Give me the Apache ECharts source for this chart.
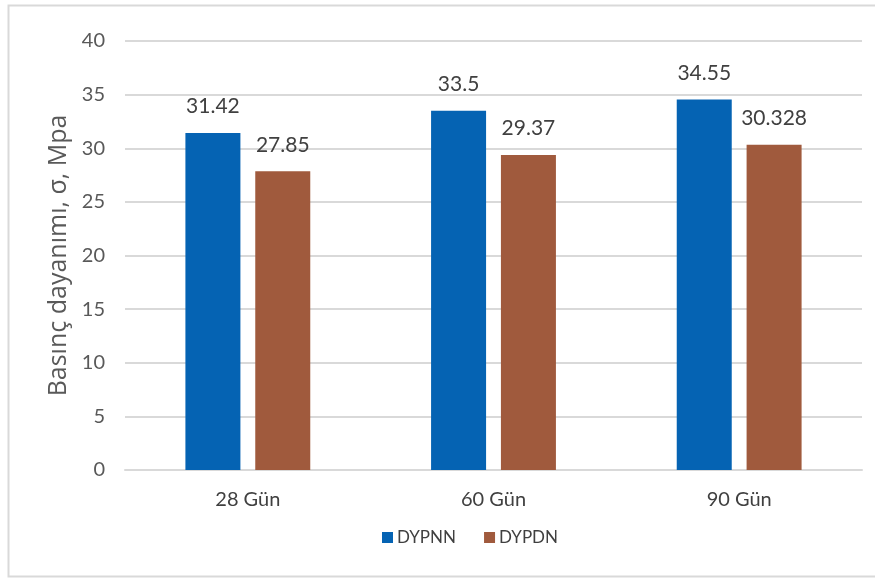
<!DOCTYPE html>
<html>
<head>
<meta charset="utf-8">
<script src="https://cdn.jsdelivr.net/npm/echarts@6/dist/echarts.min.js"></script>
<style>
  html, body { margin: 0; padding: 0; background: #ffffff; }
  #chart { width: 875px; height: 579px; }
</style>
</head>
<body>
<div id="chart"></div>
<script>
// Curing ages (categories)
const categories = ['28 Gün', '60 Gün', '90 Gün'];
// Compressive strength, MPa
const dypnn = [31.42, 33.5, 34.55];
const dypdn = [27.85, 29.37, 30.328];
// Value axis ticks
const yMin = 0, yMax = 40, yStep = 5;

const FONT = 'Lato, "Open Sans", sans-serif';
const chart = echarts.init(document.getElementById('chart'), null, { renderer: 'canvas' });

const labelStyle = {
  show: true,
  position: 'top',
  distance: 16,
  color: '#404040',
  fontSize: 21,
  fontFamily: FONT,
  formatter: p => String(p.value)
};

chart.setOption({
  backgroundColor: '#ffffff',
  animation: false,
  graphic: [
    {
      type: 'rect',
      shape: { x: 8.5, y: 5.5, width: 880, height: 571 },
      style: { fill: 'none', stroke: '#d9d9d9', lineWidth: 2 },
      silent: true
    }
  ],
  grid: { left: 125, right: 13, top: 41, bottom: 109, containLabel: false },
  legend: {
    top: 524,
    left: 377,
    itemWidth: 11,
    itemHeight: 11,
    itemGap: 28,
    icon: 'rect',
    textStyle: { color: '#404040', fontSize: 17, fontFamily: FONT, padding: [0, 0, 0, -1] },
    data: ['DYPNN', 'DYPDN']
  },
  xAxis: {
    type: 'category',
    data: categories,
    axisLine: { show: true, lineStyle: { color: '#d9d9d9', width: 2 } },
    axisTick: { show: false },
    axisLabel: { color: '#404040', fontSize: 20, fontFamily: FONT, margin: 20 }
  },
  yAxis: {
    type: 'value',
    min: yMin,
    max: yMax,
    interval: yStep,
    name: 'Basınç dayanımı, σ, Mpa',
    nameLocation: 'middle',
    nameGap: 52,
    nameTextStyle: { color: '#595959', fontSize: 25, fontFamily: '"Open Sans", sans-serif' },
    axisLine: { show: false },
    axisTick: { show: false },
    axisLabel: { color: '#595959', fontSize: 20, fontFamily: FONT, margin: 20 },
    splitLine: { lineStyle: { color: '#d9d9d9', width: 2 } }
  },
  series: [
    {
      name: 'DYPNN',
      type: 'bar',
      data: dypnn,
      barWidth: 55,
      barGap: '27%',
      itemStyle: { color: '#0563b3' },
      label: labelStyle
    },
    {
      name: 'DYPDN',
      type: 'bar',
      data: dypdn,
      barWidth: 55,
      itemStyle: { color: '#a05a3d' },
      label: labelStyle
    }
  ]
});
</script>
</body>
</html>
